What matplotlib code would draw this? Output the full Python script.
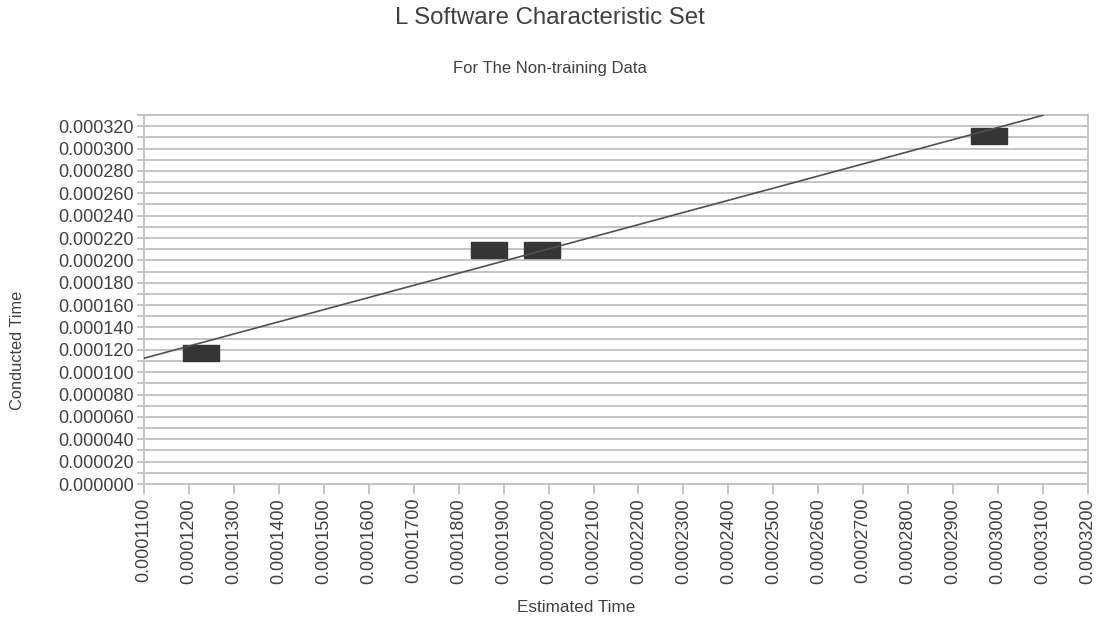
import numpy as np
import matplotlib
matplotlib.use("Agg")
import matplotlib.pyplot as plt
from matplotlib.path import Path
from matplotlib.ticker import MultipleLocator, FormatStrFormatter

plt.rcParams['font.family'] = ['Liberation Sans', 'DejaVu Sans']

# Data
estimated_time = [0.0001227, 0.0001868, 0.0001985, 0.0002979]
conducted_time = [0.0001175, 0.0002092, 0.0002092, 0.0003115]
fit_range = [0.00011, 0.00031]

title = "L Software Characteristic Set"
subtitle = "For The Non-training Data"
x_label = "Estimated Time"
y_label = "Conducted Time"

grid_col = '#c4c4c4'
text_col = '#404040'

fig = plt.figure(figsize=(10.99, 6.21), dpi=100)
ax = fig.add_axes([0.131, 0.2206, 0.859, 0.5942])

# wide rectangular markers
rect = Path([(-1, -0.44), (1, -0.44), (1, 0.44), (-1, 0.44), (-1, -0.44)],
            [Path.MOVETO, Path.LINETO, Path.LINETO, Path.LINETO, Path.CLOSEPOLY])
ax.plot(estimated_time, conducted_time, linestyle='none', marker=rect,
        markersize=26.5, color='#353535', zorder=3)

# least squares trend line
slope, intercept = np.polyfit(estimated_time, conducted_time, 1)
fx = np.array(fit_range)
ax.plot(fx, slope * fx + intercept, color='#505050', lw=1.2, zorder=4)

ax.set_xlim(0.00011, 0.00032)
ax.set_ylim(0, 0.00033)

ax.xaxis.set_major_locator(MultipleLocator(0.00001))
ax.xaxis.set_major_formatter(FormatStrFormatter('%.7f'))
ax.yaxis.set_major_locator(MultipleLocator(0.00002))
ax.yaxis.set_minor_locator(MultipleLocator(0.00001))
ax.yaxis.set_major_formatter(FormatStrFormatter('%.6f'))

ax.grid(True, axis='y', which='both', color=grid_col, lw=1.4)
ax.set_axisbelow(True)
for s in ax.spines.values():
    s.set_color(grid_col)
    s.set_linewidth(1.4)

ax.tick_params(axis='x', which='major', length=7, width=1.4, color=grid_col,
               labelsize=13, labelcolor=text_col, rotation=90, pad=3)
ax.tick_params(axis='y', which='both', length=5, width=1.4, color=grid_col,
               labelsize=13, labelcolor=text_col, pad=2)

fig.text(0.5, 1 - 18 / 621, title, ha='center', va='center', fontsize=17.3, color=text_col)
fig.text(0.5, 1 - 68 / 621, subtitle, ha='center', va='center', fontsize=12, color=text_col)
fig.text(576 / 1099, 1 - 608 / 621, x_label, ha='center', va='center', fontsize=12.3, color=text_col)
fig.text(17.5 / 1099, 1 - 350 / 621, y_label, ha='center', va='center', rotation=90,
         fontsize=11.8, color=text_col)

fig.savefig('out.png', dpi=100)
